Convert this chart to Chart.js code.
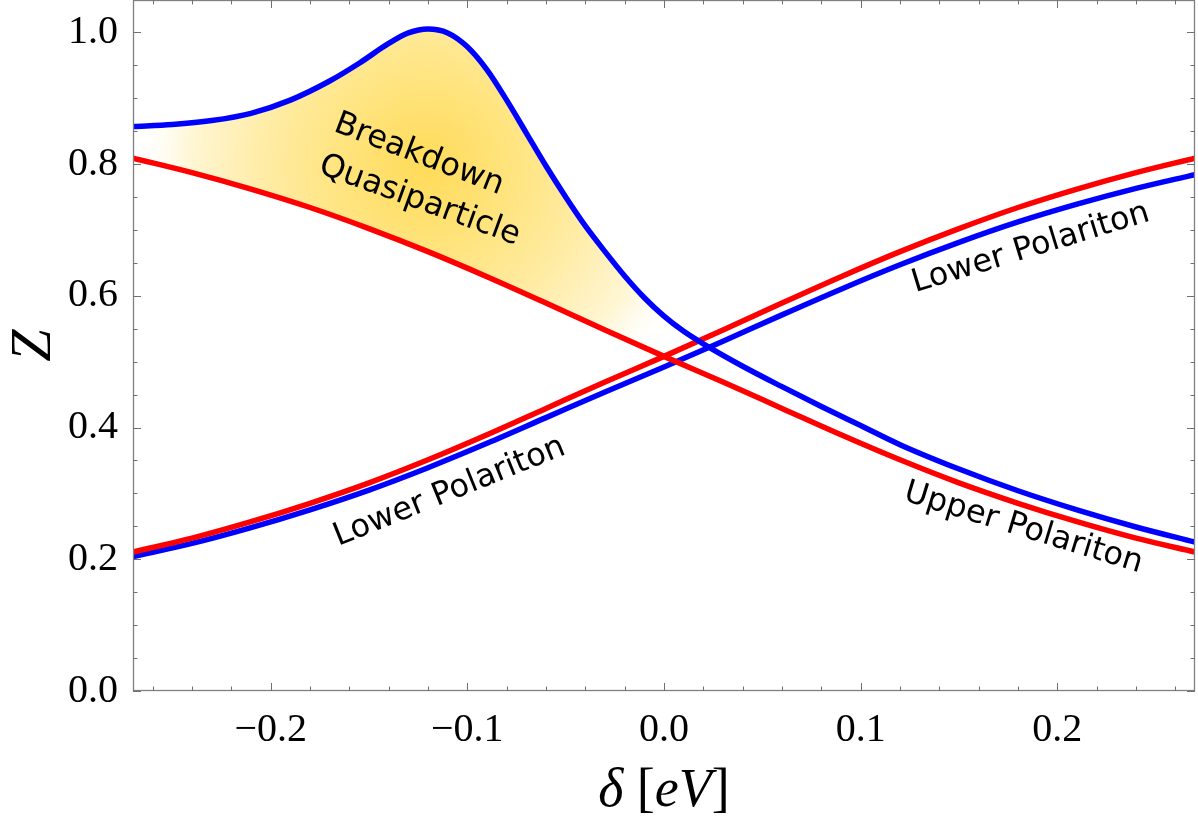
<!DOCTYPE html>
<html>
<head>
<meta charset="utf-8">
<title>Z versus detuning</title>
<script src="https://cdn.jsdelivr.net/npm/chart.js@4.4.1/dist/chart.umd.min.js"></script>
<style>
  html, body { margin: 0; padding: 0; background: #ffffff; }
  canvas { display: block; }
</style>
</head>
<body>
<canvas id="zChart" width="1198" height="822"></canvas>
<script>
// detuning grid (eV) shared by the red curves and the lower blue curve
const delta = [-0.27, -0.24, -0.21, -0.18, -0.15, -0.12, -0.09, -0.06, -0.03, 0,
               0.03, 0.06, 0.09, 0.12, 0.15, 0.18, 0.21, 0.24, 0.27];
const redUpper  = [0.809, 0.787, 0.762, 0.734, 0.702, 0.667, 0.629, 0.589, 0.548, 0.508,
                   0.469, 0.429, 0.389, 0.351, 0.316, 0.285, 0.257, 0.232, 0.211];
const redLower  = [0.211, 0.232, 0.257, 0.285, 0.316, 0.351, 0.389, 0.429, 0.469, 0.508,
                   0.548, 0.589, 0.629, 0.667, 0.702, 0.734, 0.762, 0.787, 0.809];
const blueLower = [0.204, 0.224, 0.248, 0.275, 0.305, 0.339, 0.376, 0.415, 0.454, 0.492,
                   0.531, 0.571, 0.610, 0.647, 0.681, 0.712, 0.739, 0.763, 0.784];

// the upper blue curve has a sharp bump, so it gets a finer grid
const deltaBlueUpper = [-0.27, -0.25, -0.23, -0.21, -0.19, -0.17, -0.155, -0.14, -0.13, -0.12,
                        -0.11, -0.10, -0.09, -0.08, -0.07, -0.06, -0.05, -0.04, -0.03, -0.02,
                        -0.01, 0, 0.01, 0.02, 0.04, 0.06, 0.08, 0.10, 0.12, 0.15, 0.18, 0.21,
                        0.24, 0.27];
const blueUpper = [0.857, 0.860, 0.866, 0.877, 0.897, 0.926, 0.953, 0.983, 0.999, 1.005,
                   0.999, 0.978, 0.943, 0.897, 0.847, 0.797, 0.750, 0.706, 0.667, 0.630,
                   0.597, 0.569, 0.546, 0.527, 0.493, 0.462, 0.432, 0.403, 0.374, 0.337,
                   0.304, 0.275, 0.249, 0.226];

// axes
const xTicks = [-0.2, -0.1, 0, 0.1, 0.2];
const yTicks = [0, 0.2, 0.4, 0.6, 0.8, 1.0];
const xRange = [-0.27, 0.27];
const yRange = [0, 1.049];

// text placed on the plot (data coordinates, angle in degrees, clockwise)
const curveLabels = [
    { text: "Breakdown",       x: -0.1246, y: 0.814, angle: 21 },
    { text: "Quasiparticle",   x: -0.1243, y: 0.744, angle: 20 },
    { text: "Lower Polariton", x:  0.1865, y: 0.672, angle: -17 },
    { text: "Upper Polariton", x:  0.1827, y: 0.247, angle: 17 },
    { text: "Lower Polariton", x: -0.1090, y: 0.302, angle: -22 }
];

// centre of the yellow glow inside the breakdown region
const glowCentre = [-0.121, 0.796];

const SERIF = "'Liberation Serif', 'Times New Roman', serif";
const SANS = "'DejaVu Sans', Verdana, sans-serif";

function toPoints(xs, ys) {
    return xs.map((x, i) => ({ x: x, y: ys[i] }));
}

function tickLabel(v) {
    const s = Math.abs(v).toFixed(1);
    return v < -1e-9 ? "\u2212" + s : s;
}

// radial yellow fill between the two upper curves
function breakdownGlow(context) {
    const chart = context.chart;
    const { ctx, chartArea, scales } = chart;
    if (!chartArea) return "rgba(255, 230, 140, 0.6)";
    const cx = scales.x.getPixelForValue(glowCentre[0]);
    const cy = scales.y.getPixelForValue(glowCentre[1]);
    const r = scales.x.getPixelForValue(glowCentre[0] + 0.15) - cx;
    const g = ctx.createRadialGradient(cx, cy, 0, cx, cy, r);
    g.addColorStop(0, "rgba(255, 219, 88, 1)");
    g.addColorStop(0.3, "rgba(255, 228, 128, 1)");
    g.addColorStop(0.55, "rgba(255, 236, 165, 1)");
    g.addColorStop(0.8, "rgba(255, 246, 212, 1)");
    g.addColorStop(1, "rgba(255, 255, 255, 0)");
    return g;
}

// Mathematica-like frame with inward ticks on all four sides
const framePlugin = {
    id: "frame",
    afterDraw(chart) {
        const { ctx, chartArea: a, scales: { x, y } } = chart;
        ctx.save();
        ctx.strokeStyle = "#808080";
        ctx.lineWidth = 1.3;
        ctx.strokeRect(a.left + 0.5, a.top + 0.5, a.right - a.left - 1, a.bottom - a.top - 1);

        ctx.lineWidth = 1;
        ctx.strokeStyle = "#707070";
        ctx.beginPath();
        for (let i = -13; i <= 13; i++) {
            const v = i * 0.02;
            const major = i % 5 === 0;
            const len = major ? 8 : 4.5;
            const px = Math.round(x.getPixelForValue(v)) + 0.5;
            ctx.moveTo(px, a.bottom); ctx.lineTo(px, a.bottom - len);
            ctx.moveTo(px, a.top); ctx.lineTo(px, a.top + len);
        }
        for (let i = 0; i <= 20; i++) {
            const v = i * 0.05;
            const major = i % 4 === 0;
            const len = major ? 8 : 4.5;
            const py = Math.round(y.getPixelForValue(v)) + 0.5;
            ctx.moveTo(a.left, py); ctx.lineTo(a.left + len, py);
            ctx.moveTo(a.right, py); ctx.lineTo(a.right - len, py);
        }
        ctx.stroke();
        ctx.restore();
    }
};

// axis titles: italic symbols, upright brackets
const titlePlugin = {
    id: "axisTitles",
    afterDraw(chart) {
        const { ctx, chartArea: a } = chart;
        ctx.save();
        ctx.fillStyle = "#000";
        ctx.textBaseline = "alphabetic";
        ctx.textAlign = "left";
        const parts = [["\u03b4", "italic"], [" [", "normal"], ["eV", "italic"], ["]", "normal"]];
        const size = 54;
        let total = 0;
        parts.forEach(p => {
            ctx.font = p[1] + " " + size + "px " + SERIF;
            total += ctx.measureText(p[0]).width;
        });
        let cx = (a.left + a.right) / 2 - total / 2;
        parts.forEach(p => {
            ctx.font = p[1] + " " + size + "px " + SERIF;
            ctx.fillText(p[0], cx, 806);
            cx += ctx.measureText(p[0]).width;
        });

        ctx.translate(50, (a.top + a.bottom) / 2);
        ctx.rotate(-Math.PI / 2);
        ctx.textAlign = "center";
        ctx.font = "italic 58px " + SERIF;
        ctx.fillText("Z", 0, 0);
        ctx.restore();
    }
};

const labelPlugin = {
    id: "curveLabels",
    afterDatasetsDraw(chart) {
        const { ctx, scales: { x, y } } = chart;
        ctx.save();
        ctx.fillStyle = "#000";
        ctx.font = "32px " + SANS;
        ctx.textAlign = "center";
        ctx.textBaseline = "middle";
        curveLabels.forEach(l => {
            ctx.save();
            ctx.translate(x.getPixelForValue(l.x), y.getPixelForValue(l.y));
            ctx.rotate(l.angle * Math.PI / 180);
            ctx.fillText(l.text, 0, 0);
            ctx.restore();
        });
        ctx.restore();
    }
};

const lineStyle = {
    pointRadius: 0,
    borderWidth: 5.5,
    cubicInterpolationMode: "monotone",
    clip: 0
};

new Chart(document.getElementById("zChart"), {
    type: "line",
    data: {
        datasets: [
            Object.assign({
                label: "upper (blue)",
                data: toPoints(deltaBlueUpper, blueUpper),
                borderColor: "#0000ff",
                backgroundColor: breakdownGlow,
                fill: 1
            }, lineStyle),
            Object.assign({
                label: "upper (red)",
                data: toPoints(delta, redUpper),
                borderColor: "#ff0000",
                fill: false
            }, lineStyle),
            Object.assign({
                label: "lower (red)",
                data: toPoints(delta, redLower),
                borderColor: "#ff0000",
                fill: false
            }, lineStyle),
            Object.assign({
                label: "lower (blue)",
                data: toPoints(delta, blueLower),
                borderColor: "#0000ff",
                fill: false
            }, lineStyle)
        ]
    },
    options: {
        responsive: false,
        animation: false,
        events: [],
        layout: { padding: { left: 0, right: 3, top: 0, bottom: 0 } },
        plugins: {
            legend: { display: false },
            tooltip: { enabled: false },
            filler: { drawTime: "beforeDatasetsDraw" }
        },
        scales: {
            x: {
                type: "linear",
                min: xRange[0],
                max: xRange[1],
                grid: { display: false },
                border: { display: false },
                afterBuildTicks: s => { s.ticks = xTicks.map(v => ({ value: v })); },
                afterFit: s => { s.height = 131; s.paddingLeft = 0; s.paddingRight = 0; },
                ticks: {
                    padding: 7,
                    maxRotation: 0,
                    color: "#000",
                    font: { family: SERIF, size: 40 },
                    callback: v => tickLabel(v)
                }
            },
            y: {
                type: "linear",
                min: yRange[0],
                max: yRange[1],
                grid: { display: false },
                border: { display: false },
                afterBuildTicks: s => { s.ticks = yTicks.map(v => ({ value: v })); },
                afterFit: s => { s.width = 133; s.paddingTop = 0; s.paddingBottom = 0; },
                ticks: {
                    padding: 7,
                    color: "#000",
                    font: { family: SERIF, size: 40 },
                    callback: v => tickLabel(v)
                }
            }
        }
    },
    plugins: [labelPlugin, framePlugin, titlePlugin]
});
</script>
</body>
</html>
